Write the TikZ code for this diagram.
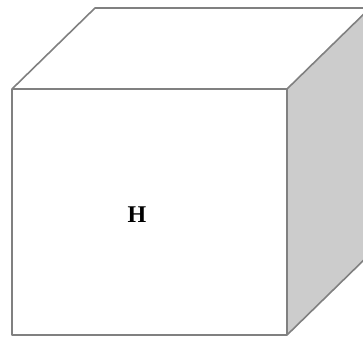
\documentclass[tikz,border=0pt]{standalone}
\usepackage{fontspec}
\setmainfont{Liberation Serif}
\begin{document}
\begin{tikzpicture}[x=1pt,y=1pt,
  edge/.style={draw=black!50,line width=1.6pt,line join=round},
  lbl/.style={font=\fontsize{24}{28}\selectfont\bfseries,text=black}]
\useasboundingbox (0,0) rectangle (363,338);
\clip (0,0) rectangle (363,338);
\coordinate (ftl) at (12,249);
\coordinate (ftr) at (287,249);
\coordinate (fbr) at (287,3);
\coordinate (fbl) at (12,3);
\coordinate (btl) at (95,330);
\coordinate (btr) at (370,330);
\coordinate (bbr) at (370,84);
\fill[white] (ftl) -- (btl) -- (btr) -- (ftr) -- cycle;
\fill[black!20] (ftr) -- (btr) -- (bbr) -- (fbr) -- cycle;
\draw[edge] (ftl) -- (btl) -- (btr) -- (bbr) -- (fbr) -- (fbl) -- cycle;
\draw[edge] (ftl) -- (ftr) -- (btr);
\draw[edge] (ftr) -- (fbr);
\node[lbl] (h) at (137,123) {H};
\end{tikzpicture}
\end{document}
